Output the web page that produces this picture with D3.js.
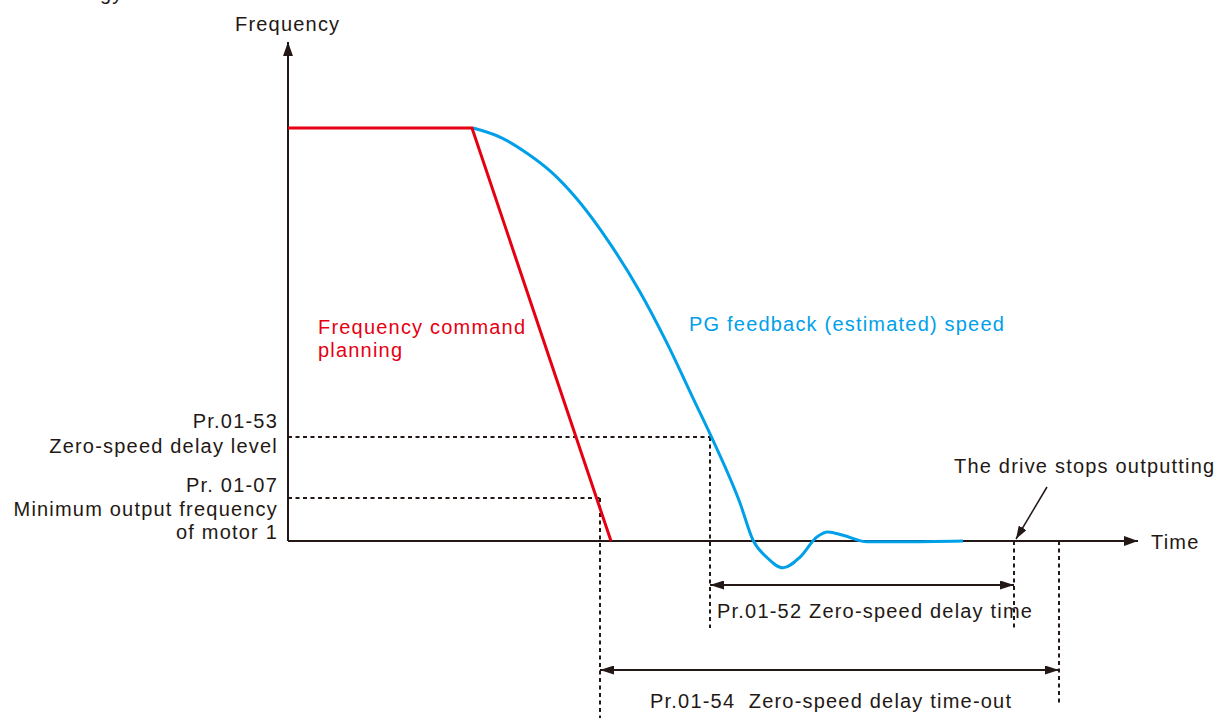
<!DOCTYPE html>
<html>
<head>
<meta charset="utf-8">
<script src="https://cdn.jsdelivr.net/npm/d3@7"></script>
<style>
  html, body { margin: 0; padding: 0; background: #fff; }
  svg text { font-family: "Liberation Sans", Arial, Helvetica, sans-serif; font-size: 20px; letter-spacing: 1.2px; }
</style>
</head>
<body>
<svg id="chart" width="1216" height="718"></svg>
<script>
// Frequency command planning (red): hold, then linear ramp to zero
const commandTime = [0, 184, 323];
const commandFreq = [100, 100, 0];

// PG feedback (estimated) speed (blue): slow decay, undershoot, settle at zero
const feedbackTime = [185, 212, 239, 264, 289, 322, 352, 379, 405, 424, 452, 465, 479, 495, 512, 529, 540, 555, 579, 612, 675];
const feedbackFreq = [100, 97.8, 93.9, 89.2, 82.8, 72.0, 60.3, 47.9, 34.6, 24.9, 9.2, 0.2, -4.0, -6.5, -3.9, 1.0, 2.2, 1.4, -0.2, -0.2, 0];

// Parameter levels on the frequency axis
const levelNames = ["Pr.01-53 Zero-speed delay level", "Pr. 01-07 Minimum output frequency of motor 1"];
const levelValues = [25.2, 10.4];

// Time instants
const tMinFreq = 312;    // command reaches minimum output frequency
const tDelayLevel = 422; // feedback reaches zero-speed delay level
const tDriveStop = 726;  // drive stops outputting
const tTimeout = 771;    // zero-speed delay time-out

const svg = d3.select("#chart");
const ink = "#231815";
const red = "#e60012";
const blue = "#00a0e9";

const x = d3.scaleLinear().domain([0, 850]).range([288, 1138]);
const y = d3.scaleLinear().domain([0, 100]).range([541, 128]);

// Arrowhead markers
const defs = svg.append("defs");
function marker(id, w, h, orient) {
  defs.append("marker")
    .attr("id", id)
    .attr("viewBox", `0 0 ${w} ${h}`)
    .attr("refX", w).attr("refY", h / 2)
    .attr("markerWidth", w).attr("markerHeight", h)
    .attr("markerUnits", "userSpaceOnUse")
    .attr("orient", orient)
    .append("path")
    .attr("d", `M0,0 L${w},${h / 2} L0,${h} Z`)
    .attr("fill", ink);
}
marker("axisHead", 14, 10, "auto");
marker("dimHead", 14, 9, "auto-start-reverse");
marker("ptrHead", 13, 9, "auto");

// Axes
svg.append("line")
  .attr("x1", x(0)).attr("y1", y(0)).attr("x2", x(0)).attr("y2", y(120.8))
  .attr("stroke", ink).attr("stroke-width", 2).attr("marker-end", "url(#axisHead)");
svg.append("line")
  .attr("x1", x(0)).attr("y1", y(0)).attr("x2", x(850)).attr("y2", y(0))
  .attr("stroke", ink).attr("stroke-width", 2).attr("marker-end", "url(#axisHead)");

svg.append("text").attr("x", 235).attr("y", 31).attr("fill", ink).text("Frequency");
svg.append("text").attr("x", 1151).attr("y", 549).attr("fill", ink).text("Time");
svg.append("text").attr("x", 100).attr("y", 0).attr("fill", ink).text("gy");

// Dotted guide lines
const dotted = svg.append("g")
  .attr("stroke", ink).attr("stroke-width", 2).attr("stroke-dasharray", "4,3.5").attr("fill", "none");
dotted.append("line").attr("x1", x(0)).attr("x2", x(tDelayLevel)).attr("y1", y(levelValues[0])).attr("y2", y(levelValues[0]));
dotted.append("line").attr("x1", x(0)).attr("x2", x(tMinFreq)).attr("y1", y(levelValues[1])).attr("y2", y(levelValues[1]));
dotted.append("line").attr("x1", x(tMinFreq)).attr("x2", x(tMinFreq)).attr("y1", y(levelValues[1])).attr("y2", 718);
dotted.append("line").attr("x1", x(tDelayLevel)).attr("x2", x(tDelayLevel)).attr("y1", y(levelValues[0])).attr("y2", 628);
dotted.append("line").attr("x1", x(tDriveStop)).attr("x2", x(tDriveStop)).attr("y1", y(0)).attr("y2", 630);
dotted.append("line").attr("x1", x(tTimeout)).attr("x2", x(tTimeout)).attr("y1", y(0)).attr("y2", 706);

// Curves
const commandData = commandTime.map((t, i) => [t, commandFreq[i]]);
const feedbackData = feedbackTime.map((t, i) => [t, feedbackFreq[i]]);

svg.append("path")
  .datum(feedbackData)
  .attr("d", d3.line().x(d => x(d[0])).y(d => y(d[1])).curve(d3.curveMonotoneX))
  .attr("fill", "none").attr("stroke", blue).attr("stroke-width", 3);

svg.append("path")
  .datum(commandData)
  .attr("d", d3.line().x(d => x(d[0])).y(d => y(d[1])))
  .attr("fill", "none").attr("stroke", red).attr("stroke-width", 3).attr("stroke-linejoin", "miter");

// Curve labels
const cmdLabel = svg.append("text").attr("fill", red);
cmdLabel.append("tspan").attr("x", 318).attr("y", 334).text("Frequency command");
cmdLabel.append("tspan").attr("x", 318).attr("y", 357).text("planning");
svg.append("text").attr("x", 689).attr("y", 331).attr("fill", blue).text("PG feedback (estimated) speed");

// Level labels on the left
const lvl = svg.append("g").attr("fill", ink).attr("text-anchor", "end");
lvl.append("text").attr("x", 278).attr("y", 428).text("Pr.01-53");
lvl.append("text").attr("x", 278).attr("y", 453).text("Zero-speed delay level");
lvl.append("text").attr("x", 278).attr("y", 492).text("Pr. 01-07");
lvl.append("text").attr("x", 278).attr("y", 516).text("Minimum output frequency");
lvl.append("text").attr("x", 278).attr("y", 539).text("of motor 1");

// Dimension arrows
svg.append("line")
  .attr("x1", x(tDelayLevel)).attr("x2", x(tDriveStop)).attr("y1", 585).attr("y2", 585)
  .attr("stroke", ink).attr("stroke-width", 2)
  .attr("marker-start", "url(#dimHead)").attr("marker-end", "url(#dimHead)");
svg.append("text").attr("x", 717).attr("y", 618).attr("fill", ink).text("Pr.01-52 Zero-speed delay time");

svg.append("line")
  .attr("x1", x(tMinFreq)).attr("x2", x(tTimeout)).attr("y1", 670).attr("y2", 670)
  .attr("stroke", ink).attr("stroke-width", 2)
  .attr("marker-start", "url(#dimHead)").attr("marker-end", "url(#dimHead)");
svg.append("text").attr("x", 650).attr("y", 708).attr("fill", ink)
  .attr("xml:space", "preserve").style("white-space", "pre").text("Pr.01-54  Zero-speed delay time-out");

// Drive stop pointer
svg.append("text").attr("x", 954).attr("y", 473).attr("fill", ink).text("The drive stops outputting");
svg.append("line")
  .attr("x1", 1047).attr("y1", 487).attr("x2", x(tDriveStop) + 2).attr("y2", y(0) - 2)
  .attr("stroke", ink).attr("stroke-width", 1.5).attr("marker-end", "url(#ptrHead)");
</script>
</body>
</html>
